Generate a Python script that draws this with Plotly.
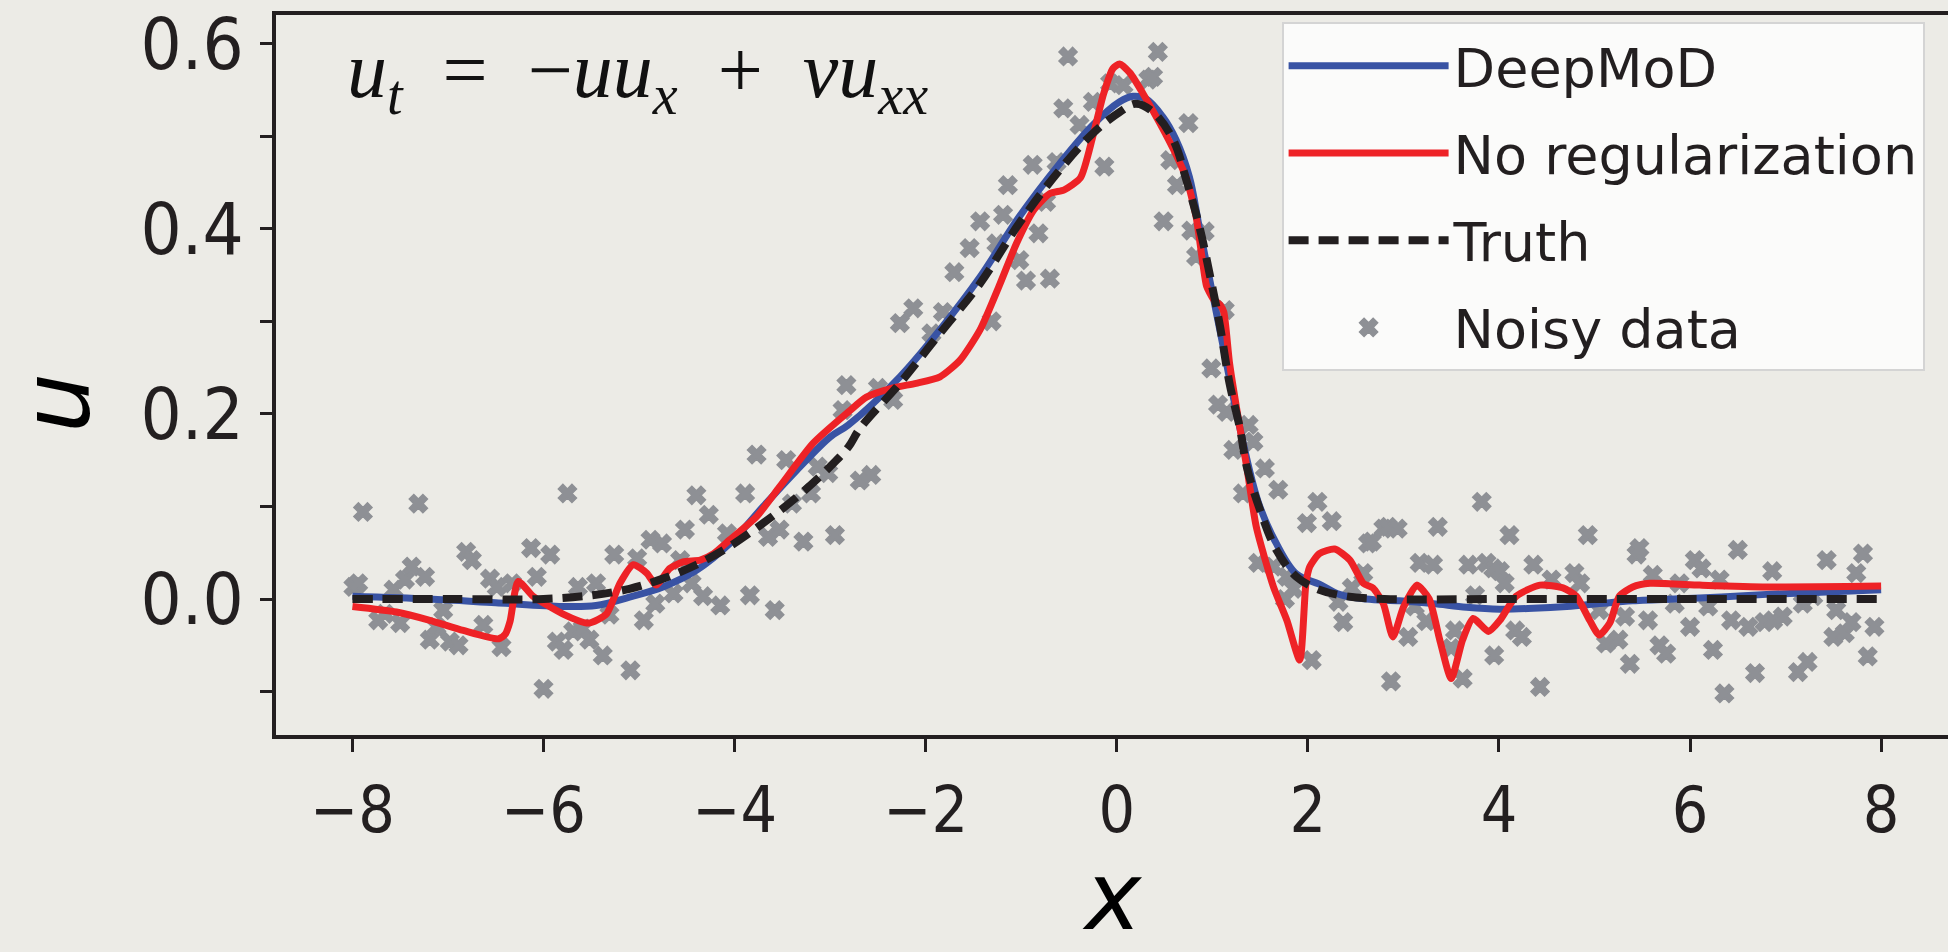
import plotly.graph_objects as go

# ---------------- data ----------------
truth_x = [-8.0, -7.0, -6.0, -5.5, -5.1, -4.75, -4.4, -4.05, -3.7, -3.35, -3.0, -2.81, -2.69,
           -2.27, -1.85, -1.43, -1.02, -0.60, -0.25, 0.03, 0.20, 0.38, 0.59, 0.73, 0.87, 1.0,
           1.08, 1.18, 1.29, 1.36, 1.50, 1.67, 1.88, 2.12, 2.4, 2.8, 4.0, 6.0, 8.0]
truth_u = [0.0, 0.0, 0.0, 0.004, 0.011, 0.022, 0.037, 0.057, 0.082, 0.110, 0.143, 0.164, 0.184,
           0.233, 0.287, 0.341, 0.406, 0.463, 0.503, 0.526, 0.535, 0.526, 0.496, 0.452, 0.400, 0.337,
           0.295, 0.233, 0.184, 0.143, 0.096, 0.053, 0.024, 0.010, 0.003, 0.0, 0.0, 0.0, 0.0]

deepmod_x = [-8.0, -7.2, -6.5, -5.8, -5.45, -5.1, -4.75, -4.4, -4.05, -3.7, -3.35, -3.0, -2.81,
             -2.27, -1.85, -1.43, -1.02, -0.60, -0.25, 0.03, 0.17, 0.31, 0.48, 0.62, 0.76, 0.87,
             1.08, 1.29, 1.48, 1.67, 1.88, 2.12, 2.33, 2.61, 2.96, 3.31, 3.66, 4.01, 4.36, 4.71,
             5.05, 5.40, 6.10, 6.80, 8.0]
deepmod_u = [0.003, 0.0, -0.004, -0.008, -0.007, 0.002, 0.013, 0.031, 0.060, 0.100, 0.139, 0.175, 0.188,
             0.240, 0.291, 0.348, 0.413, 0.470, 0.512, 0.537, 0.543, 0.540, 0.521, 0.496, 0.456, 0.398,
             0.290, 0.184, 0.105, 0.060, 0.027, 0.016, 0.005, 0.0, -0.002, -0.005, -0.009, -0.011, -0.010, -0.008,
             -0.005, -0.002, 0.001, 0.005, 0.010]

noreg_x = [-8.0, -7.54, -7.19, -6.84, -6.47, -6.40, -6.35, -6.265, -6.11, -5.80, -5.53, -5.34, -5.20,
           -5.06, -4.92, -4.82, -4.68, -4.54, -4.36, -4.22, -4.05, -3.77, -3.53, -3.18, -2.81, -2.62,
           -2.34, -2.10, -1.85, -1.64, -1.43, -1.22, -1.05, -0.87, -0.70, -0.55, -0.38, -0.25, -0.14,
           -0.04, 0.03, 0.14, 0.28, 0.45, 0.62, 0.73, 0.83, 0.90, 0.94, 1.01, 1.08, 1.12, 1.18, 1.29,
           1.36, 1.46, 1.64, 1.78, 1.915, 1.98, 2.02, 2.12, 2.28, 2.44, 2.58, 2.68, 2.79, 2.89, 3.00,
           3.14, 3.27, 3.38, 3.50, 3.62, 3.73, 3.89, 4.01, 4.18, 4.43, 4.67, 4.81, 4.95, 5.05, 5.16,
           5.26, 5.40, 5.58, 6.10, 6.80, 8.0]
noreg_u = [-0.008, -0.014, -0.023, -0.034, -0.043, -0.038, -0.024, 0.019, 0.003, -0.016, -0.026, -0.016, 0.017,
           0.037, 0.028, 0.015, 0.033, 0.040, 0.042, 0.049, 0.064, 0.089, 0.121, 0.168, 0.202, 0.218,
           0.228, 0.233, 0.240, 0.258, 0.291, 0.341, 0.384, 0.420, 0.438, 0.442, 0.455, 0.500, 0.545,
           0.573, 0.578, 0.568, 0.545, 0.514, 0.480, 0.454, 0.413, 0.363, 0.338, 0.324, 0.318, 0.310, 0.255, 0.184,
           0.143, 0.078, 0.013, -0.023, -0.066, 0.017, 0.035, 0.049, 0.054, 0.042, 0.017, 0.012, -0.005, -0.041, -0.009,
           0.015, 0.000, -0.044, -0.086, -0.044, -0.021, -0.035, -0.023, 0.003, 0.015, 0.012, 0.003, -0.023, -0.039, -0.026,
           0.003, 0.013, 0.017, 0.015, 0.013, 0.014]

noisy_x = [-7.99, -7.94, -7.89, -7.73, -7.66, -7.57, -7.50, -7.45, -7.38, -7.31, -7.24, -7.19, -7.12,
           -7.05, -6.98, -6.89, -6.81, -6.75, -6.63, -6.56, -6.49, -6.44, -6.33, -6.13, -6.07, -6.00,
           -5.93, -5.86, -5.79, -5.75, -5.69, -5.64, -5.59, -5.52, -5.45, -5.38, -5.31, -5.26, -5.09,
           -5.02, -4.95, -4.88, -4.83, -4.76, -4.64, -4.57, -4.52, -4.45, -4.40, -4.33, -4.27, -4.15,
           -4.08, -3.89, -3.84, -3.77, -3.65, -3.58, -3.53, -3.46, -3.40, -3.28, -3.20, -3.13, -3.02,
           -2.95, -2.87, -2.83, -2.69, -2.57, -2.50, -2.34, -2.27, -2.13, -1.94, -1.82, -1.70, -1.54,
           -1.43, -1.31, -1.26, -1.19, -1.14, -1.02, -0.95, -0.88, -0.82, -0.74, -0.70, -0.63, -0.56,
           -0.51, -0.39, -0.25, -0.13, -0.07, 0.07, 0.33, 0.38, 0.43, 0.49, 0.56, 0.63, 0.75, 0.78,
           0.83, 0.92, 0.99, 1.06, 1.13, 1.15, 1.22, 1.32, 1.38, 1.43, 1.48, 1.55, 1.64, 1.69, 1.76,
           1.78, 1.85, 1.99, 2.04, 2.10, 2.25, 2.32, 2.37, 2.46, 2.58, 2.63, 2.67, 2.79, 2.84, 2.87,
           2.94, 3.05, 3.12, 3.17, 3.24, 3.31, 3.36, 3.50, 3.54, 3.62, 3.68, 3.75, 3.82, 3.87, 3.94,
           3.95, 4.01, 4.06, 4.11, 4.17, 4.24, 4.36, 4.43, 4.55, 4.79, 4.85, 4.93, 5.05, 5.12, 5.25,
           5.32, 5.37, 5.44, 5.47, 5.56, 5.61, 5.68, 5.75, 5.84, 5.89, 6.00, 6.05, 6.12, 6.19, 6.24,
           6.31, 6.36, 6.43, 6.50, 6.61, 6.68, 6.78, 6.86, 6.87, 6.97, 7.13, 7.18, 7.23, 7.29, 7.43,
           7.50, 7.53, 7.62, 7.69, 7.74, 7.81, 7.86, 7.93]
noisy_u = [0.013, 0.017, 0.094, -0.023, -0.016, 0.010, -0.026, 0.021, 0.035, 0.103, 0.024, -0.044, -0.030,
           -0.012, -0.046, -0.050, 0.051, 0.042, -0.028, 0.022, 0.013, -0.052, 0.017, 0.055, 0.024, -0.097,
           0.048, -0.046, -0.055, 0.114, -0.035, 0.013, -0.032, -0.044, 0.017, -0.061, -0.017, 0.048, -0.077,
           0.044, -0.023, 0.064, -0.005, 0.060, 0.006, 0.042, 0.075, 0.017, 0.112, 0.003, 0.091, -0.007,
           0.071, 0.114, 0.004, 0.156, 0.067, -0.012, 0.075, 0.150, 0.103, 0.062, 0.114, 0.143, 0.136,
           0.069, 0.204, 0.231, 0.128, 0.134, 0.228, 0.215, 0.298, 0.314, 0.287, 0.310, 0.353, 0.379,
           0.408, 0.300, 0.384, 0.415, 0.447, 0.366, 0.344, 0.469, 0.395, 0.429, 0.346, 0.472, 0.530,
           0.586, 0.512, 0.537, 0.467, 0.557, 0.555, 0.561, 0.564, 0.591, 0.408, 0.474, 0.447, 0.514, 0.398,
           0.370, 0.397, 0.249, 0.210, 0.312, 0.202, 0.161, 0.114, 0.188, 0.170, 0.039, 0.141, 0.035, 0.118, 0.000,
           0.024, 0.011, 0.082, -0.066, 0.105, 0.084, -0.003, -0.025, 0.012, 0.028, 0.060, 0.062, 0.076, 0.078, -0.089,
           0.076, -0.041, -0.008, 0.039, -0.024, 0.037, 0.078, -0.053, -0.034, -0.086, 0.037, 0.004, 0.105, 0.039, 0.033,
           -0.061, 0.030, 0.017, 0.069, -0.034, -0.041, 0.037, -0.095, 0.021, 0.028, 0.017, 0.069, -0.012, -0.048, -0.044,
           -0.019, -0.070, 0.048, 0.055, -0.023, 0.026, -0.050, -0.059, -0.005, 0.017, -0.030, 0.042, 0.033, -0.008, -0.055,
           0.021, -0.102, -0.023, 0.053, -0.030, -0.080, -0.025, 0.030, -0.023, -0.019, -0.079, -0.005, -0.068, 0.003, 0.042,
           -0.041, -0.012, -0.037, -0.025, 0.028, 0.049, -0.062, -0.030]

x_tickvals = [-8, -6, -4, -2, 0, 2, 4, 6, 8]
x_ticktext = ["\u22128", "\u22126", "\u22124", "\u22122", "0", "2", "4", "6", "8"]
y_tickvals = [0.0, 0.2, 0.4, 0.6]
y_ticktext = ["0.0", "0.2", "0.4", "0.6"]
y_minor_tickvals = [-0.1, 0.1, 0.3, 0.5]

# ---------------- style ----------------
BLUE = "#3953a4"
RED = "#ee2226"
BLACK = "#231f20"
GRAY = "#8e9095"
BG = "#ecebe6"
TICKFONT = "DejaVu Sans Condensed, Liberation Sans Narrow, DejaVu Sans, sans-serif"
TITLEFONT = dict(family="DejaVu Sans, sans-serif", size=95, color="#000000", style="italic")

fig = go.Figure()
fig.add_trace(go.Scatter(x=noisy_x, y=noisy_u, mode="markers", name="Noisy data",
                         marker=dict(symbol="x", size=16, color=GRAY, line=dict(width=1.5, color=GRAY)),
                         legendrank=4, legendgroup="d"))
fig.add_trace(go.Scatter(x=deepmod_x, y=deepmod_u, mode="lines", name="DeepMoD",
                         line=dict(color=BLUE, width=7, shape="spline", smoothing=1.0),
                         legendrank=1, legendgroup="a"))
fig.add_trace(go.Scatter(x=noreg_x, y=noreg_u, mode="lines", name="No regularization",
                         line=dict(color=RED, width=7, shape="spline", smoothing=0.6),
                         legendrank=2, legendgroup="b"))
fig.add_trace(go.Scatter(x=truth_x, y=truth_u, mode="lines", name="Truth",
                         line=dict(color=BLACK, width=8, dash="20px,10px", shape="spline", smoothing=1.0),
                         legendrank=3, legendgroup="c"))

# governing equation
fig.add_annotation(
    xref="paper", yref="paper", x=0.041, y=0.915, xanchor="left", yanchor="middle",
    text="<i>u</i><sub><i>t</i></sub>\u2002=\u2002\u2212<i>uu</i><sub><i>x</i></sub>\u2002+\u2002<i>\u03bdu</i><sub><i>xx</i></sub>",
    showarrow=False, font=dict(family="Liberation Serif, DejaVu Serif, serif", size=80, color="#111111"))

# axis titles
fig.add_annotation(xref="paper", yref="paper", x=0.5, y=-0.2231, xanchor="center", yanchor="middle",
                   text="x", showarrow=False, font=TITLEFONT)
fig.add_annotation(xref="paper", yref="paper", x=-0.1316, y=0.461, xanchor="center", yanchor="middle",
                   text="u", textangle=-90, showarrow=False, font=TITLEFONT)

fig.update_layout(
    width=1948, height=952,
    margin=dict(l=276, r=0, t=15, b=217, autoexpand=False),
    paper_bgcolor=BG, plot_bgcolor=BG,
    showlegend=True,
    legend=dict(x=0.986, y=0.990, xanchor="right", yanchor="top",
                bgcolor="#fbfbfa", bordercolor="#d4d4d4", borderwidth=2,
                font=dict(family="DejaVu Sans, sans-serif", size=54, color=BLACK),
                itemwidth=160, traceorder="grouped", tracegroupgap=14),
    xaxis=dict(range=[-8.8, 8.70], tickvals=x_tickvals, ticktext=x_ticktext,
               showgrid=False, zeroline=False, showline=True, mirror=True,
               linecolor=BLACK, linewidth=4, ticks="outside", ticklen=13, tickwidth=3,
               tickcolor=BLACK, ticklabelstandoff=3,
               tickfont=dict(family=TICKFONT, size=64, color=BLACK)),
    yaxis=dict(range=[-0.1469, 0.6308], tickvals=y_tickvals, ticktext=y_ticktext,
               showgrid=False, zeroline=False, showline=True, mirror=False,
               linecolor=BLACK, linewidth=4, ticks="outside", ticklen=12, tickwidth=3,
               tickcolor=BLACK, ticklabelstandoff=2,
               minor=dict(tickmode="array", tickvals=y_minor_tickvals, ticks="outside",
                          ticklen=12, tickwidth=3, tickcolor=BLACK, showgrid=False),
               tickfont=dict(family=TICKFONT, size=72, color=BLACK)),
)

fig.write_html("out.html")
